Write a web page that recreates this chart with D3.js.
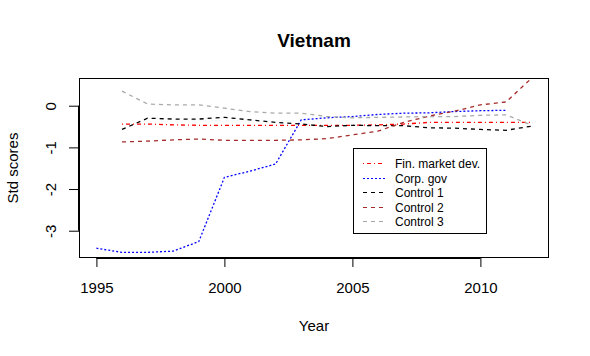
<!DOCTYPE html>
<html><head><meta charset="utf-8">
<script src="https://cdn.jsdelivr.net/npm/d3@7"></script>
<style>body{margin:0;background:#fff}svg{display:block}text{font-family:"Liberation Sans",Arial,sans-serif}</style>
</head><body>
<svg id="c" width="590" height="356"></svg>
<script>
const years = [1995,1996,1997,1998,1999,2000,2001,2002,2003,2004,2005,2006,2007,2008,2009,2010,2011,2012];
const finMarketDev = [null,-0.44,-0.44,-0.46,-0.47,-0.47,-0.47,-0.47,-0.47,-0.47,-0.47,-0.46,-0.44,-0.40,-0.40,-0.40,-0.40,-0.40];
const corpGov = [-3.42,-3.52,-3.52,-3.49,-3.26,-1.72,-1.57,-1.40,-0.34,-0.29,-0.26,-0.21,-0.18,-0.17,-0.14,-0.12,-0.11,null];
const control1 = [null,-0.57,-0.30,-0.32,-0.32,-0.28,-0.34,-0.40,-0.44,-0.50,-0.47,-0.48,-0.48,-0.53,-0.54,-0.57,-0.59,-0.49];
const control2 = [null,-0.87,-0.85,-0.82,-0.80,-0.83,-0.83,-0.83,-0.82,-0.79,-0.70,-0.61,-0.40,-0.25,-0.13,0.02,0.09,0.66];
const control3 = [null,0.35,0.04,0.02,0.02,-0.06,-0.14,-0.18,-0.18,-0.26,-0.29,-0.28,-0.27,-0.26,-0.26,-0.23,-0.22,-0.47];
const seriesNames = ["Fin. market dev.","Corp. gov","Control 1","Control 2","Control 3"];
const seriesData = [finMarketDev, corpGov, control1, control2, control3];
const seriesColors = ["#FF0000","#0000FF","#000000","#A52A2A","#A9A9A9"];
const seriesDash = ["1,3,4,3","2,2","4,4","4,4","4,4"];
const xTicks = [1995,2000,2005,2010];
const yTicks = [0,-1,-2,-3];

const svg = d3.select("#c");
const L=79, R=549, T=78, B=258;
const x = d3.scaleLinear().domain([1994.32, 2012.68]).range([L, R]);
const y = d3.scaleLinear().domain([-3.655, 0.665]).range([B, T]);

svg.append("defs").append("clipPath").attr("id","clip")
  .append("rect").attr("x",L).attr("y",T).attr("width",R-L).attr("height",B-T);

const g = svg.append("g").attr("clip-path","url(#clip)");
seriesData.forEach((vals,i)=>{
  const pts = years.map((yr,j)=>[yr, vals[j]]);
  const line = d3.line().defined(d=>d[1]!==null).x(d=>x(d[0])).y(d=>y(d[1]));
  g.append("path").attr("d", line(pts)).attr("fill","none")
    .attr("stroke", seriesColors[i]).attr("stroke-width",1.3)
    .attr("stroke-dasharray", seriesDash[i]);
});

svg.append("rect").attr("x",L+0.5).attr("y",T+0.5).attr("width",R-L-1).attr("height",B-T-1)
  .attr("fill","none").attr("stroke","#000").attr("stroke-width",1);

const fam = "Liberation Sans, Arial, sans-serif";
// x axis
const xa = svg.append("g").attr("transform",`translate(0,${B})`)
  .call(d3.axisBottom(x).tickValues(xTicks).tickFormat(d3.format("d")).tickSize(9).tickPadding(15));
xa.select(".domain").attr("d",`M${x(1995)},0.5H${x(2010)}`).attr("stroke","#000");
xa.selectAll("text").attr("font-size","15px").attr("fill","#000").attr("font-family",fam);

// y axis
const ya = svg.append("g").attr("transform",`translate(${L},0)`)
  .call(d3.axisLeft(y).tickValues(yTicks).tickFormat(d=>d3.format("d")(d).replace("−","-")).tickSize(10).tickPadding(0));
ya.select(".domain").attr("d",`M-0.5,${y(0)}V${y(-3)}`).attr("stroke","#000");
ya.selectAll("text").attr("font-size","15px").attr("fill","#000")
  .attr("font-family",fam)
  .attr("text-anchor","middle").attr("dy",null)
  .attr("transform","translate(-29,0) rotate(-90)").attr("x",0).attr("y",0)
  .attr("dominant-baseline","central");

svg.append("text").attr("x",(L+R)/2).attr("y",47).attr("text-anchor","middle")
  .attr("font-size","19px").attr("font-weight","bold").text("Vietnam");
svg.append("text").attr("x",(L+R)/2).attr("y",331).attr("text-anchor","middle")
  .attr("font-size","15px").text("Year");
svg.append("text").attr("transform",`translate(18,${(T+B)/2}) rotate(-90)`).attr("text-anchor","middle")
  .attr("font-size","15px").text("Std scores");

// legend
const lg = svg.append("g");
lg.append("rect").attr("x",353.5).attr("y",148.5).attr("width",133).attr("height",85)
  .attr("fill","#fff").attr("stroke","#000");
seriesNames.forEach((n,i)=>{
  const yy = Math.round(163 + i*14.5) + 0.5;
  lg.append("line").attr("x1",363).attr("x2",385).attr("y1",yy).attr("y2",yy)
    .attr("stroke",seriesColors[i]).attr("stroke-width",1.3)
    .attr("shape-rendering","crispEdges").attr("stroke-dasharray",seriesDash[i]);
  lg.append("text").attr("x",395).attr("y",yy).attr("dominant-baseline","central")
    .attr("font-size","12px").text(n);
});
</script>
</body></html>
